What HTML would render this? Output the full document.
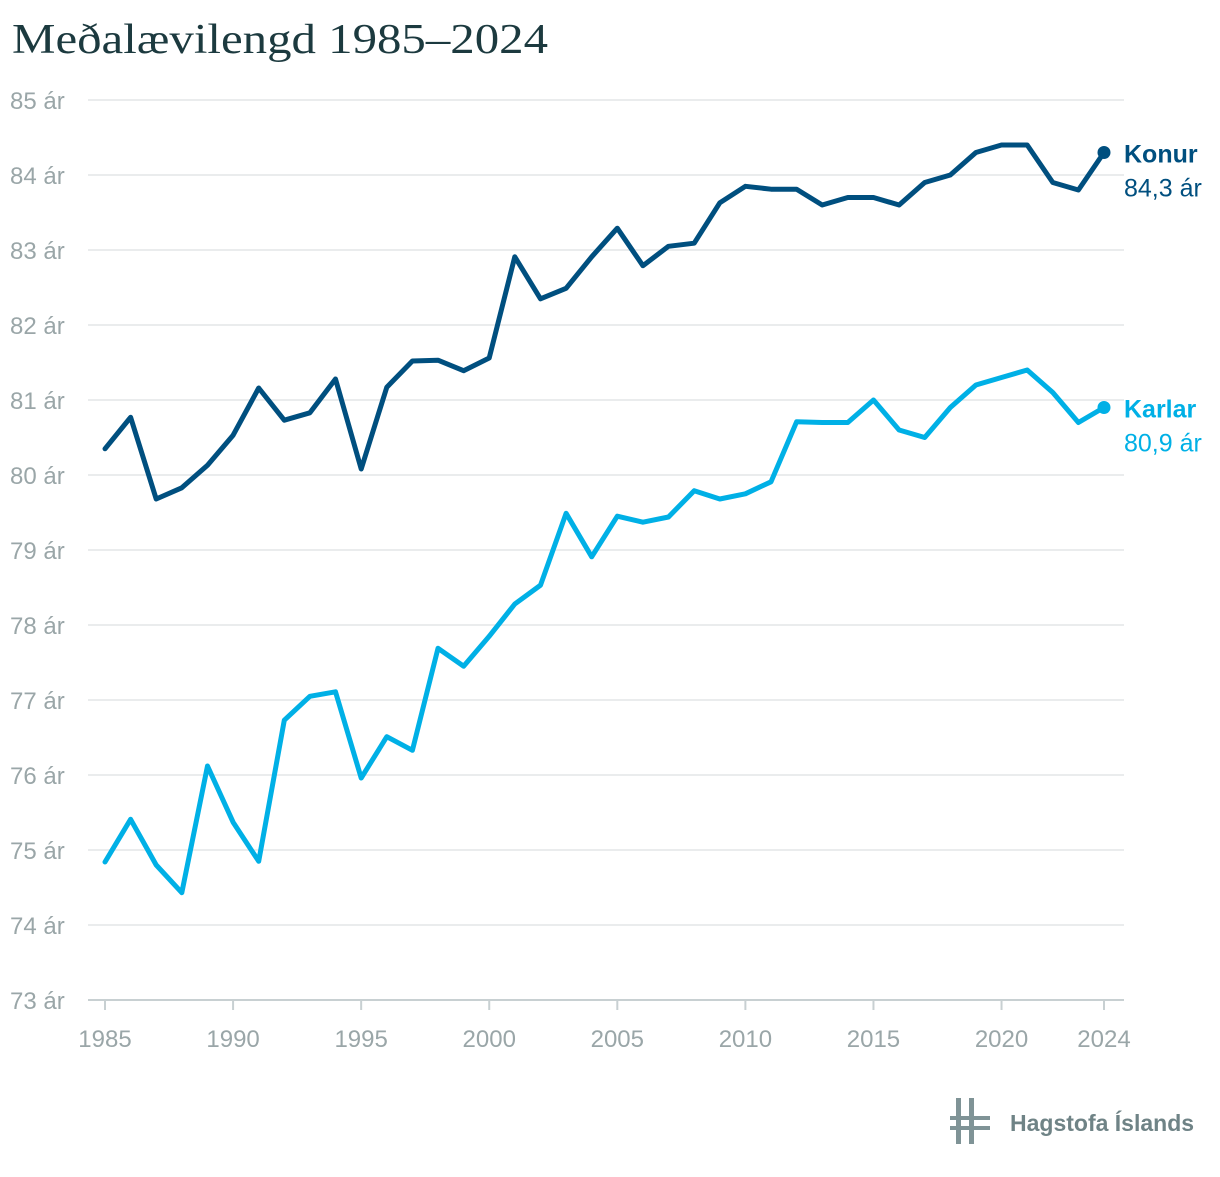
<!DOCTYPE html>
<html><head><meta charset="utf-8">
<style>
body{margin:0;background:#fff;width:1220px;height:1172px;overflow:hidden;font-family:"Liberation Sans",sans-serif;}
svg text{font-family:"Liberation Sans",sans-serif;}
</style></head>
<body>
<svg id="chart" width="1220" height="1172">
<text x="12" y="53" font-size="42" fill="#1c3a3f" textLength="536" lengthAdjust="spacingAndGlyphs" style="font-family:'Liberation Serif',serif">Meðalævilengd 1985–2024</text>
<g id="grid"></g><g id="axes"></g><g id="series"></g>
<g>
<rect x="956" y="1098" width="5" height="46" fill="#7f9396"/>
<rect x="969" y="1098" width="5" height="46" fill="#7f9396"/>
<rect x="950" y="1116" width="40" height="4" fill="#7f9396"/>
<rect x="950" y="1126" width="40" height="4" fill="#7f9396"/>
<text x="1010" y="1131" font-size="23" font-weight="bold" fill="#6f8386">Hagstofa Íslands</text>
</g>
</svg>
<script>
const years=[];for(let y=1985;y<=2024;y++)years.push(y);
const konur=[80.35,80.77,79.68,79.83,80.13,80.53,81.16,80.73,80.83,81.28,80.08,81.17,81.52,81.53,81.39,81.56,82.91,82.35,82.49,82.91,83.29,82.79,83.05,83.09,83.63,83.85,83.81,83.81,83.6,83.7,83.7,83.6,83.9,84.0,84.3,84.4,84.4,83.9,83.8,84.3];
const karlar=[74.84,75.41,74.8,74.43,76.12,75.37,74.85,76.73,77.05,77.11,75.96,76.51,76.33,77.69,77.45,77.85,78.28,78.53,79.49,78.91,79.45,79.37,79.44,79.79,79.68,79.75,79.91,80.71,80.7,80.7,81.0,80.6,80.5,80.9,81.2,81.3,81.4,81.1,80.7,80.9];
const yTicks=[73,74,75,76,77,78,79,80,81,82,83,84,85];
const xTicks=[1985,1990,1995,2000,2005,2010,2015,2020,2024];
const NS='http://www.w3.org/2000/svg';
const X=y=>105+(y-1985)*(999/39);
const Y=v=>100+(85-v)*75;
function mk(tag,attrs,parent,txt){const e=document.createElementNS(NS,tag);for(const k in attrs)e.setAttribute(k,attrs[k]);if(txt!==undefined)e.textContent=txt;parent.appendChild(e);return e;}
const grid=document.getElementById('grid'),axes=document.getElementById('axes'),ser=document.getElementById('series');
yTicks.forEach(v=>{
 const l=mk('line',{x1:88,x2:1124,y1:Y(v),y2:Y(v),stroke:v===73?'#c8d0d2':'#e3e6e7','stroke-width':v===73?2:1.5},grid);
 
 
 const t=mk('text',{x:10,y:Y(v)+9,'font-size':24,fill:'#9aa6a8'},axes,v+' ár');
 
 
});
xTicks.forEach(v=>{
 const l=mk('line',{x1:X(v),x2:X(v),y1:1000,y2:1010,stroke:'#c8d0d2','stroke-width':2},axes);
 
 
 const t=mk('text',{x:X(v),y:1047,'font-size':24,fill:'#9aa6a8','text-anchor':'middle'},axes,String(v));
 
 
});
function draw(vals,color,name,label){
 const d=vals.map((v,i)=>(i?'L':'M')+X(years[i]).toFixed(1)+','+Y(v).toFixed(1)).join(' ');
 const p=mk('path',{d:d,fill:'none',stroke:color,'stroke-width':5,'stroke-linejoin':'round','stroke-linecap':'round'},ser);
 
 
 const last=vals[vals.length-1];
 const c=mk('circle',{cx:X(2024),cy:Y(last),r:6.5,fill:color},ser);
 
 
 const t1=mk('text',{x:1124,y:Y(last)+10,'font-size':25,'font-weight':'bold',fill:color},ser,label);
 
 
 const t2=mk('text',{x:1124,y:Y(last)+44,'font-size':25,fill:color},ser,last.toFixed(1).replace('.',',')+' ár');
 
 
}
draw(karlar,'#00b0e6','karlar','Karlar');
draw(konur,'#004f7f','konur','Konur');
</script>
</body></html>
